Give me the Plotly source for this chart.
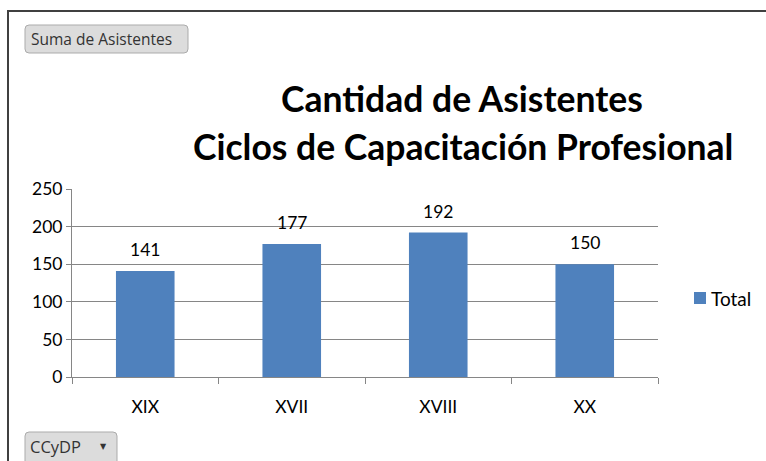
import plotly.graph_objects as go

categories = ["XIX", "XVII", "XVIII", "XX"]
values = [141, 177, 192, 150]
series_name = "Total"
title_lines = ["Cantidad de Asistentes", "Ciclos de Capacitación Profesional"]

W, H = 766, 461
L, R, T, B = 72, 658, 189, 377  # plot area in pixels


def px(x):
    return (x - L) / (R - L)


def py(y):
    return (B - y) / (B - T)


def rounded(x0, y0, x1, y1, r=4):
    a, b, c, d = px(x0), px(x1), py(y0), py(y1)
    rx = r / (R - L)
    ry = r / (B - T)
    return (f"M {a+rx},{c} L {b-rx},{c} Q {b},{c} {b},{c-ry} L {b},{d+ry} "
            f"Q {b},{d} {b-rx},{d} L {a+rx},{d} Q {a},{d} {a},{d+ry} "
            f"L {a},{c-ry} Q {a},{c} {a+rx},{c} Z")


FONT = "Lato"
BAR_COLOR = "#4F81BD"

fig = go.Figure()
fig.add_trace(go.Bar(
    x=categories, y=values, name=series_name,
    marker=dict(color=BAR_COLOR, line=dict(width=0)),
    width=0.4, showlegend=False, hoverinfo="x+y",
))

annotations = []
for c, v in zip(categories, values):
    annotations.append(dict(x=c, y=v, text=str(v), showarrow=False,
                            xref="x", yref="y", yanchor="bottom", yshift=9,
                            font=dict(family=FONT, size=17.5, color="#000")))

annotations.append(dict(x=px(462), y=py(98), xref="paper", yref="paper",
                        xanchor="center", yanchor="middle", showarrow=False,
                        text=f"<b>{title_lines[0]}</b>",
                        font=dict(family=FONT, size=35.5, color="#000")))
annotations.append(dict(x=px(463), y=py(146), xref="paper", yref="paper",
                        xanchor="center", yanchor="middle", showarrow=False,
                        text=f"<b>{title_lines[1]}</b>",
                        font=dict(family=FONT, size=35.5, color="#000")))
# legend (manual)
annotations.append(dict(x=px(709), y=py(298), xref="paper", yref="paper",
                        xanchor="left", yanchor="middle", showarrow=False,
                        text=series_name,
                        font=dict(family=FONT, size=19, color="#000")))
# buttons text
annotations.append(dict(x=px(29), y=py(39), xref="paper", yref="paper",
                        xanchor="left", yanchor="middle", showarrow=False,
                        text="Suma de Asistentes",
                        font=dict(family="Open Sans", size=15.5, color="#333")))
annotations.append(dict(x=px(28), y=py(446), xref="paper", yref="paper",
                        xanchor="left", yanchor="middle", showarrow=False,
                        text="CCyDP",
                        font=dict(family="Open Sans", size=16.5, color="#333")))
annotations.append(dict(x=px(103), y=py(446), xref="paper", yref="paper",
                        xanchor="center", yanchor="middle", showarrow=False,
                        text="▼",
                        font=dict(family="DejaVu Sans", size=8, color="#333")))

shapes = [
    dict(type="path", path=rounded(25, 25, 188, 53), xref="paper", yref="paper",
         fillcolor="#DCDCDC", line=dict(color="#ABABAB", width=1), layer="below"),
    dict(type="path", path=rounded(25, 432, 117, 466), xref="paper", yref="paper",
         fillcolor="#DCDCDC", line=dict(color="#ABABAB", width=1), layer="below"),
    dict(type="line", xref="paper", yref="paper", x0=px(7), x1=px(770),
         y0=py(11), y1=py(11), line=dict(color="#404040", width=2)),
    dict(type="line", xref="paper", yref="paper", x0=px(8), x1=px(8),
         y0=py(10), y1=py(470), line=dict(color="#404040", width=2)),
    # legend swatch
    dict(type="rect", xref="paper", yref="paper", x0=px(694), x1=px(706),
         y0=py(292), y1=py(304), fillcolor=BAR_COLOR, line=dict(width=0)),
]

fig.update_layout(
    width=W, height=H,
    margin=dict(l=L, r=W - R, t=T, b=H - B, pad=0, autoexpand=False),
    paper_bgcolor="white", plot_bgcolor="white",
    font=dict(family=FONT, size=17.5, color="#000"),
    showlegend=False,
    annotations=annotations,
    shapes=shapes,
    xaxis=dict(type="category", showgrid=False, showline=True,
               linecolor="#868686", linewidth=1, ticks="outside",
               tickson="boundaries", ticklen=6, tickcolor="#868686",
               ticklabelstandoff=14,
               tickfont=dict(family=FONT, size=17.5, color="#000"),
               fixedrange=True),
    yaxis=dict(range=[0, 250], dtick=50, showgrid=True, gridcolor="#868686",
               gridwidth=1, showline=True, linecolor="#868686", linewidth=1,
               ticks="outside", ticklen=5, tickcolor="#868686",
               tickfont=dict(family=FONT, size=17.5, color="#000"),
               zeroline=False, fixedrange=True),
)

fig.write_html(
    "out.html",
    config={"displayModeBar": False},
    post_script="document.body.style.margin='0';document.body.style.overflow='hidden';",
)
